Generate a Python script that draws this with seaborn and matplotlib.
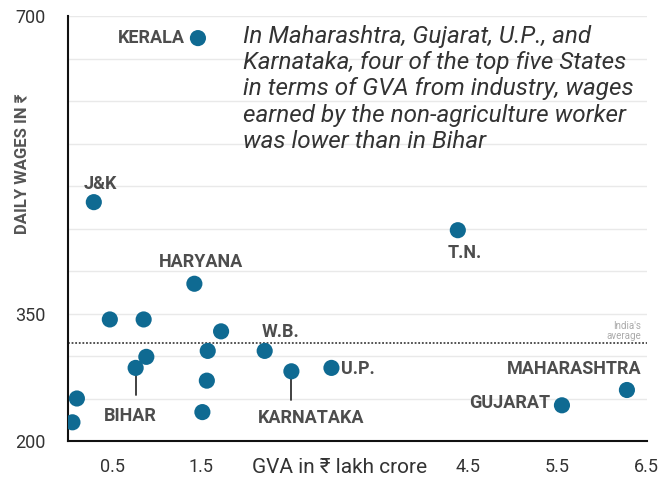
import matplotlib
matplotlib.use("Agg")
import matplotlib.pyplot as plt
import seaborn as sns
import pandas as pd

# ---- data ----
states = ["KERALA", "J&K", "HARYANA", "T.N.", "W.B.", "U.P.", "BIHAR", "KARNATAKA",
          "MAHARASHTRA", "GUJARAT", "", "", "", "", "", "", "", ""]
gva = [1.46, 0.29, 1.42, 4.38, 2.21, 2.96, 0.76, 2.51,
       6.28, 5.55, 0.47, 0.85, 1.72, 0.88, 1.57, 1.56, 1.51, 0.10]
wages = [674, 481, 385, 448, 306, 286, 286, 282,
         260, 242, 343, 343, 329, 299, 306, 271, 234, 250]
extra_gva = [0.05]
extra_wages = [222]
india_avg = 315

y_ticks = [200, 250, 300, 350, 400, 450, 500, 550, 600, 650, 700]
y_labels = ["200", "", "", "350", "", "", "", "", "", "", "700"]
x_ticks = [0, 0.5, 1, 1.5, 2, 2.5, 3, 3.5, 4, 4.5, 5, 5.5, 6, 6.5]
x_labels = ["", "0.5", "", "1.5", "", "", "", "", "", "4.5", "", "5.5", "", "6.5"]

note = ("In Maharashtra, Gujarat, U.P., and\n"
        "Karnataka, four of the top five States\n"
        "in terms of GVA from industry, wages\n"
        "earned by the non-agriculture worker\n"
        "was lower than in Bihar")

df = pd.DataFrame({"state": states + [""] * len(extra_gva),
                   "gva": gva + extra_gva,
                   "wages": wages + extra_wages})

sns.set_theme(style="white")
plt.rcParams["font.family"] = ["Roboto", "DejaVu Sans"]

fig = plt.figure(figsize=(6.69, 4.86), dpi=100)
ax = fig.add_axes([68 / 669, 45 / 486, 578.5 / 669, 425 / 486])

# grid
ax.set_yticks(y_ticks)
ax.set_xticks(x_ticks)
ax.yaxis.grid(True, color="#e9e9e9", linewidth=1.0)
ax.set_axisbelow(True)

# average line
ax.axhline(india_avg, color="#444444", linestyle=(0, (1, 1)), linewidth=1.3, zorder=2)
ax.text(6.44, india_avg + 3, "India's\naverage", ha="right", va="bottom",
        fontsize=7, color="#aaaaaa", linespacing=1.0)

sns.scatterplot(data=df, x="gva", y="wages", ax=ax, s=135, color="#0f6a92",
                edgecolor="none", zorder=3, legend=False)

ax.set_xlim(0, 6.5)
ax.set_ylim(200, 700)
ax.set_xlabel("")
ax.set_ylabel("")
ax.set_yticklabels(y_labels)
ax.set_xticklabels(x_labels)

for s in ["top", "right"]:
    ax.spines[s].set_visible(False)
for s in ["left", "bottom"]:
    ax.spines[s].set_color("#111111")
    ax.spines[s].set_linewidth(1.5)
ax.tick_params(axis="y", direction="out", length=7, width=1.3, color="#111111",
               pad=9, labelsize=13, labelcolor="#333333")
ax.tick_params(axis="x", direction="out", length=6, width=1.3, color="#111111",
               pad=6, labelsize=13, labelcolor="#333333")
ax.spines["left"].set_bounds(200, 700)

# x label placed between tick labels
ax.text(3.05, -0.04, "GVA in ₹ lakh crore", transform=ax.get_xaxis_transform(),
        ha="center", va="top", fontsize=15, color="#333333")
# y label
ax.text(-0.08, 0.652, "DAILY WAGES IN ₹", transform=ax.transAxes, rotation=90,
        ha="center", va="center", fontsize=12, fontweight="bold", color="#555555")

# state labels: offsets in pixels (dx, dy, ha)
label_style = {
    "KERALA": (-13, 0, "right"),
    "J&K": (7, 18, "center"),
    "HARYANA": (7, 22, "center"),
    "T.N.": (7, -23, "center"),
    "W.B.": (16, 19, "center"),
    "U.P.": (10, -1, "left"),
    "MAHARASHTRA": (15, 21, "right"),
    "GUJARAT": (-12, 2, "right"),
    "BIHAR": (-5, -48, "center"),
    "KARNATAKA": (20, -47, "center"),
}
leaders = {"BIHAR": 32, "KARNATAKA": 34}

for name, x, y in zip(states, gva, wages):
    if name in label_style:
        dx, dy, ha = label_style[name]
        ax.annotate(name, (x, y), xytext=(dx, dy), textcoords="offset pixels",
                    ha=ha, va="center", fontsize=13, fontweight="bold",
                    color="#4d4d4d")
    if name in leaders:
        ax.plot([x, x], [y, y - leaders[name]], color="#333333", linewidth=1.3,
                zorder=2)

ax.text(1.966, 689, note, ha="left", va="top", fontsize=17.5, fontstyle="italic",
        color="#333333", linespacing=1.17)

fig.savefig("out.png", dpi=100, facecolor="white")
